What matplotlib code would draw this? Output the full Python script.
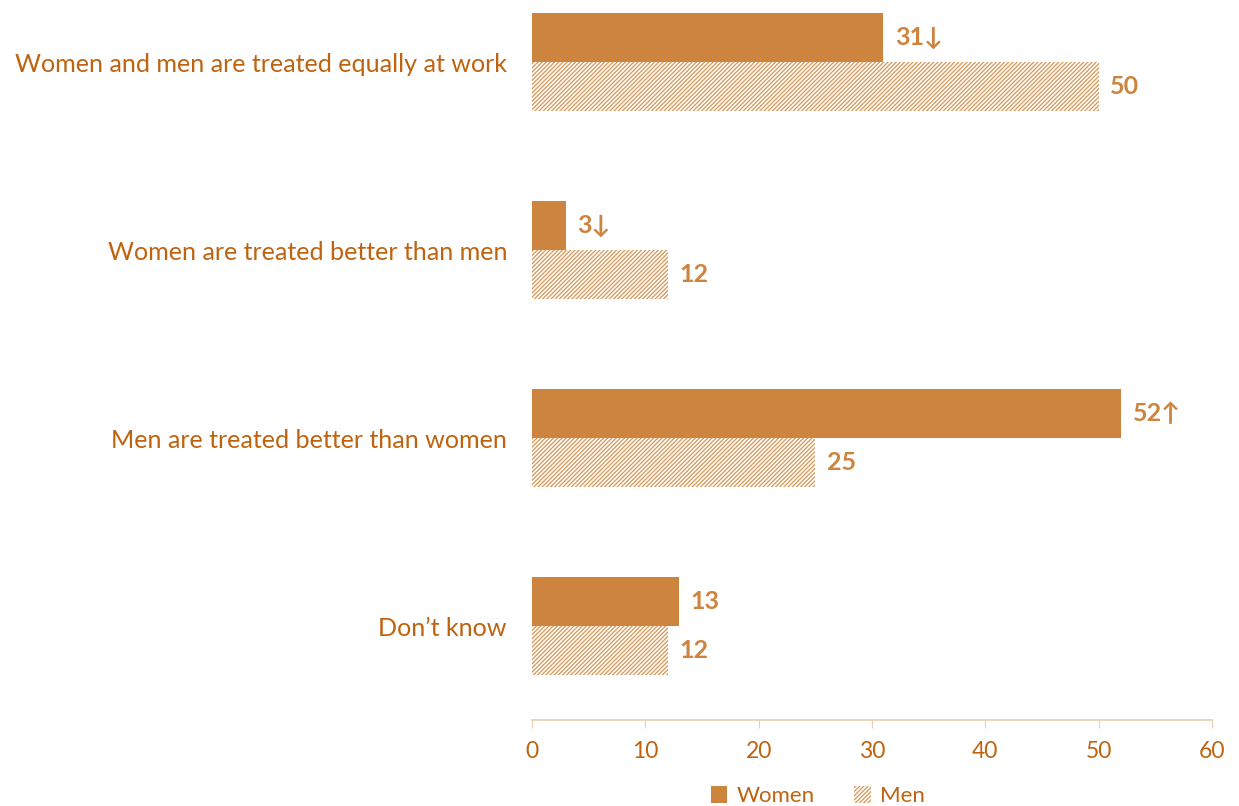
import matplotlib
matplotlib.use("Agg")
import matplotlib.pyplot as plt
import numpy as np

categories = [
    "Women and men are treated equally at work",
    "Women are treated better than men",
    "Men are treated better than women",
    "Don\u2019t know",
]
women = [31, 3, 52, 13]
men = [50, 12, 25, 12]
women_labels = ["31\u2193", "3\u2193", "52\u2191", "13"]
men_labels = ["50", "12", "25", "12"]
xticks = [0, 10, 20, 30, 40, 50, 60]

BAR = "#CD843F"
TEXT = "#C0630F"
AXIS = "#E8CDB0"

plt.rcParams["font.family"] = ["Lato", "DejaVu Sans"]
plt.rcParams["hatch.linewidth"] = 0.9
plt.rcParams["hatch.color"] = "#D89552"

fig = plt.figure(figsize=(12.39, 8.06), dpi=100)
ax = fig.add_axes([532 / 1239, 86 / 806, 680 / 1239, 720 / 806])

y = np.arange(len(categories))
h = 0.262
ax.barh(y - h / 2, women, height=h, color=BAR, label="Women")
ax.barh(y + h / 2, men, height=h, color="white", edgecolor="#D89552",
        hatch="////////", linewidth=0, label="Men")

for i in range(len(categories)):
    ax.text(women[i] + 1.0, y[i] - h / 2, women_labels[i], va="center", ha="left",
            fontsize=18, fontweight="bold", color=BAR)
    ax.text(men[i] + 1.0, y[i] + h / 2, men_labels[i], va="center", ha="left",
            fontsize=18, fontweight="bold", color=BAR)

ax.set_xlim(0, 60)
ax.set_ylim(3.5, 3.5 - 720 / 188)
ax.set_yticks(y)
ax.set_yticklabels(categories, fontsize=18.1, color=TEXT)
ax.tick_params(axis="y", length=0, pad=18)
ax.set_xticks(xticks)
ax.tick_params(axis="x", colors=AXIS, labelcolor=TEXT, labelsize=16.5, length=6, pad=9)

for side in ["top", "right", "left"]:
    ax.spines[side].set_visible(False)
ax.spines["bottom"].set_color(AXIS)
ax.spines["bottom"].set_linewidth(1.2)

leg = fig.legend(loc="lower center", bbox_to_anchor=(0.66, -0.025), ncol=2,
                 frameon=False, fontsize=16, handlelength=0.75, handleheight=0.75,
                 columnspacing=1.8, handletextpad=0.4)
for t in leg.get_texts():
    t.set_color(TEXT)

fig.savefig("out.png", dpi=100)
